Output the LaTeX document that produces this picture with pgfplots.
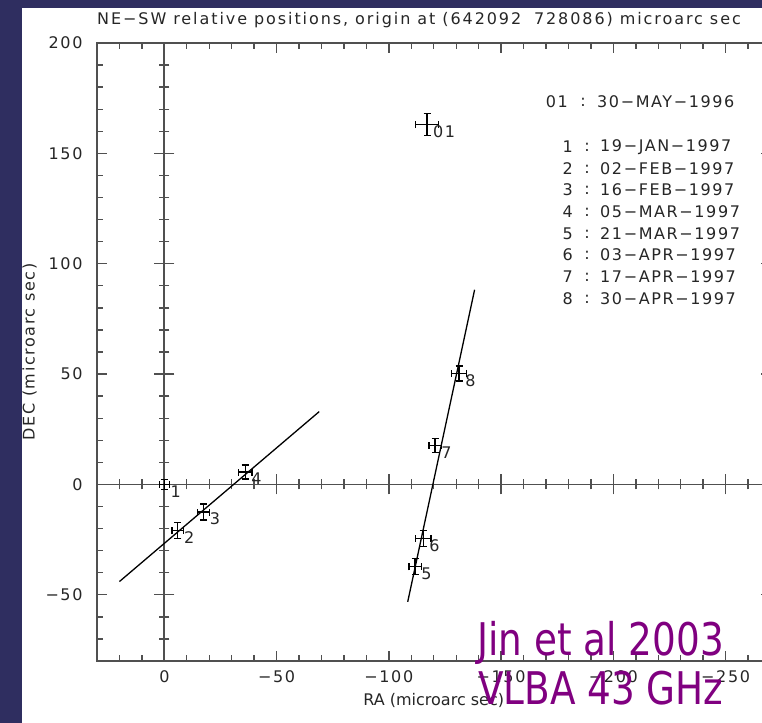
\documentclass[border=0pt]{standalone}
\usepackage{fontspec}
\setmainfont{DejaVu Sans}
\newfontfamily\spaced[LetterSpace=10]{DejaVu Sans}
\newfontfamily\wide[LetterSpace=12]{DejaVu Sans}
\usepackage{pgfplots}
\usepackage{pgfplotstable}
\pgfplotsset{compat=1.18}

\definecolor{slate}{RGB}{47,46,96}
\definecolor{framegray}{RGB}{80,80,80}
\definecolor{note}{RGB}{128,0,128}

% epoch positions (RA, DEC) with errors, microarcsec
\pgfplotstableread{
ra      dec    era  edec  lab
-117    163    5.0  5.0   01
0       0      2.2  2.2   1
-6      -21    2.6  3.6   2
-17.5   -12.5  2.6  3.6   3
-36     5.6    3.0  3.2   4
-111.7  -37.3  2.7  3.6   5
-115.3  -24.4  3.5  3.6   6
-120.6  17.7   2.7  3.2   7
-131.3  50.3   3.3  3.4   8
}\positions

\newcommand{\lblfont}{\spaced\fontsize{16bp}{19bp}\selectfont}

\pgfplotsset{
  relpos/.style={
    scale only axis, width=673.5bp, height=618bp,
    at={(97bp,62bp)}, anchor=south west,
    xmin=-270, xmax=30, ymin=-80, ymax=200,
    x dir=reverse,
    xtick={-250,-200,-150,-100,-50,0},
    ytick={-50,0,50,100,150,200},
    minor xtick={-260,-250,...,20},
    minor ytick={-70,-60,...,190},
    tick style={framegray, line width=1.4bp},
  }
}

\begin{document}
\begin{tikzpicture}[x=1bp,y=1bp]
\useasboundingbox (0,0) rectangle (762,723);
\clip (0,0) rectangle (762,723);
\fill[slate] (0,0) rectangle (762,723);
\fill[white] (22,0) rectangle (762,715);

% axes through the origin
\begin{axis}[relpos,
  axis lines=middle,
  axis line style={framegray, line width=1.8bp, -},
  tick align=center,
  major tick length=20bp, minor tick length=10bp,
  xticklabels={}, yticklabels={},
]
\end{axis}

% framed axis with the data
\begin{axis}[relpos,
  axis line style={framegray, line width=2bp},
  xtick pos=both, ytick pos=both,
  tick align=inside,
  major tick length=10bp, minor tick length=6bp,
  xticklabels={−250,−200,−150,−100,−50,0},
  yticklabels={−50,0,50,100,150,200},
  tick label style={font=\lblfont, text=black!85},
  xticklabel style={yshift=-6bp},
  yticklabel style={xshift=-11bp},
  xlabel={RA (microarc sec)},
  ylabel={DEC (microarc sec)},
  xlabel style={font=\fontsize{16bp}{19bp}\selectfont, text=black!85, yshift=-4bp},
  ylabel style={font=\lblfont, text=black!85, yshift=2bp},
]
\addplot[black, line width=1.3bp] coordinates {(20,-44) (-69,33)};
\addplot[black, line width=1.3bp] coordinates {(-108.4,-53.2) (-138.2,88.2)};
\addplot[black, only marks, mark=*, mark size=0.8bp,
  error bars/.cd,
    x dir=both, x explicit, y dir=both, y explicit,
    error mark=-,
    error bar style={black, line width=1.3bp},
    error mark options={rotate=90, black, line width=1.3bp, mark size=3.5bp},
] table[x=ra, y=dec, x error=era, y error=edec] {\positions};
\addplot[only marks, mark=none,
  nodes near coords, point meta=explicit symbolic,
  nodes near coords style={anchor=west, inner sep=0pt, xshift=6bp, yshift=-7bp,
    font=\lblfont, text=black!85},
] table[x=ra, y=dec, meta=lab] {\positions};
\end{axis}

% title
\node[font=\wide\fontsize{16bp}{19bp}\selectfont, text=black!85] at (419,703) {NE−SW relative positions, origin at (642092\hspace{0.8em}728086) microarc sec};

% epoch list
\begin{scope}[every node/.style={font=\lblfont, text=black!85, inner sep=0pt}]
\node[anchor=east] at (568,621) {01};
\node at (583,621) {:};
\node[anchor=west] at (597,621) {30−MAY−1996};
\foreach \n/\d/\yy in {1/19−JAN−1997/576, 2/02−FEB−1997/554, 3/16−FEB−1997/533,
    4/05−MAR−1997/511, 5/21−MAR−1997/489, 6/03−APR−1997/468,
    7/17−APR−1997/446, 8/30−APR−1997/424} {
  \node[anchor=east] at (573,\yy) {\n};
  \node at (587,\yy) {:};
  \node[anchor=west] at (600,\yy) {\d};
}
\end{scope}

% annotation
\node[anchor=base west, inner sep=0pt, text=note, font=\fontsize{45bp}{50bp}\selectfont] at (477,67) {\scalebox{0.83}[1]{Jin et al 2003}};
\node[anchor=base west, inner sep=0pt, text=note, font=\fontsize{45bp}{50bp}\selectfont] at (478,18) {\scalebox{0.83}[1]{VLBA 43 GHz}};
\end{tikzpicture}
\end{document}
